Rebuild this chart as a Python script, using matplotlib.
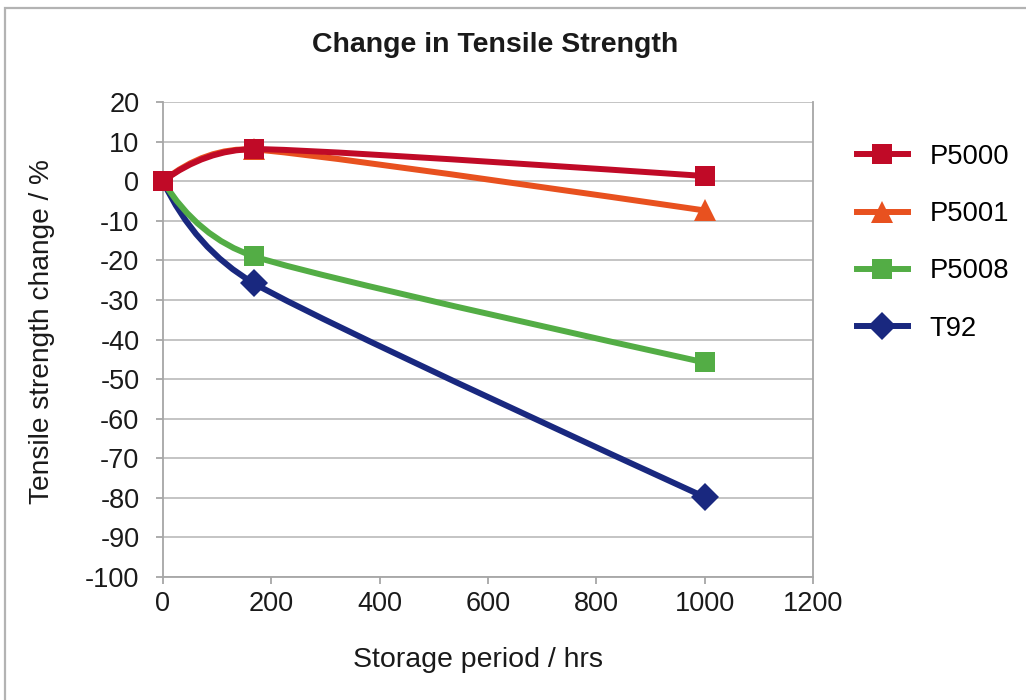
import matplotlib
matplotlib.use('Agg')
import matplotlib.pyplot as plt
from matplotlib.path import Path
from matplotlib.patches import PathPatch, Rectangle
from matplotlib.lines import Line2D
import numpy as np

plt.rcParams['font.family'] = ['Liberation Sans', 'DejaVu Sans']
plt.rcParams['axes.unicode_minus'] = False

# data
hours = [0, 168, 1000]
p5000 = [0, 8.1, 1.3]
p5001 = [0, 8.0, -7.4]
p5008 = [0, -19.0, -45.8]
t92 = [0, -25.8, -79.8]

series_names = ['P5000', 'P5001', 'P5008', 'T92']
series_values = [p5000, p5001, p5008, t92]
colors = ['#c00a27', '#e8511f', '#53ad45', '#19287f']
markers = ['s', '^', 's', 'D']
marker_sizes = [15, 16, 15, 14.5]

x_ticks = [0, 200, 400, 600, 800, 1000, 1200]
y_ticks = list(range(-100, 21, 10))

GRID = '#bfbfbf'
AXIS = '#a6a6a6'
TEXT = '#1a1a1a'
LW = 4.3


def smooth_path(ax, xs, ys):
    # smoothed line like the spreadsheet one: cubic bezier through the points,
    # tangents worked out in screen space so the curve looks the same
    pts = ax.transData.transform(np.column_stack([xs, ys]).astype(float))
    n = len(pts)
    tang_in = [None] * n
    tang_out = [None] * n
    for i in range(1, n - 1):
        d = pts[i + 1] - pts[i - 1]
        d = d / np.hypot(*d)
        short = min(np.hypot(*(pts[i] - pts[i - 1])), np.hypot(*(pts[i + 1] - pts[i])))
        tang_in[i] = d * short
        tang_out[i] = d * short
    # free ends: mirror the neighbouring tangent
    tang_out[0] = 2 * (pts[1] - pts[0]) - tang_in[1]
    tang_in[n - 1] = 2 * (pts[n - 1] - pts[n - 2]) - tang_out[n - 2]
    verts = [pts[0]]
    codes = [Path.MOVETO]
    for i in range(n - 1):
        verts += [pts[i] + tang_out[i] / 3.0, pts[i + 1] - tang_in[i + 1] / 3.0, pts[i + 1]]
        codes += [Path.CURVE4] * 3
    verts = ax.transData.inverted().transform(np.array(verts))
    return Path(verts, codes)


fig = plt.figure(figsize=(10.26, 7), dpi=100)
ax = fig.add_axes([163 / 1026, 123 / 700, 650 / 1026, 475 / 700])
ax.set_xlim(0, 1200)
ax.set_ylim(-100, 20)

# outer frame of the chart area
fig.patches.append(Rectangle((5 / 1026, -0.05), 1.1, (692 / 700) + 0.05,
                             transform=fig.transFigure, fill=False,
                             edgecolor='#b3b3b3', linewidth=1.6))

handles = []
for k in range(len(series_names)):
    z = 10 - k
    patch = PathPatch(smooth_path(ax, hours, series_values[k]), facecolor='none',
                      edgecolor=colors[k], linewidth=LW, capstyle='round',
                      joinstyle='round', zorder=z)
    ax.add_patch(patch)
    # the shared start point only shows the top series' marker
    every = None if k == 0 else [1, 2]
    ax.plot(hours, series_values[k], linestyle='none', marker=markers[k],
            markersize=marker_sizes[k], color=colors[k], markeredgewidth=0,
            markevery=every, zorder=z + 0.5, clip_on=False)
    handles.append(Line2D([], [], color=colors[k], linewidth=LW,
                          marker=markers[k], markersize=marker_sizes[k],
                          markeredgewidth=0, label=series_names[k]))
ax.plot(hours[:1], p5000[:1], linestyle='none', marker='s', markersize=15,
        color=colors[0], markeredgewidth=0, zorder=20, clip_on=False)

ax.set_xticks(x_ticks)
ax.set_yticks(y_ticks)
ax.yaxis.grid(True, color=GRID, linewidth=1.3)
ax.set_axisbelow(True)

for side in ['left', 'bottom', 'right']:
    ax.spines[side].set_color(AXIS)
    ax.spines[side].set_linewidth(1.3)
ax.spines['top'].set_visible(False)

ax.tick_params(axis='both', colors=AXIS, labelcolor=TEXT,
               labelsize=19.5, length=5, width=1.3)
ax.tick_params(axis='y', pad=12)
ax.tick_params(axis='x', pad=5)

fig.text(495 / 1026, 1 - 52 / 700, 'Change in Tensile Strength',
         ha='center', va='baseline', fontsize=20.5, fontweight='bold',
         color=TEXT)
fig.text(478 / 1026, 1 - 660 / 700, 'Storage period / hrs',
         ha='center', va='center', fontsize=20.5, color=TEXT)
fig.text(42 / 1026, 1 - 332 / 700, 'Tensile strength change / %',
         ha='center', va='center', rotation=90, fontsize=20.2,
         color=TEXT)

fig.legend(handles=handles, loc='upper left',
           bbox_to_anchor=(857 / 1026, 1 - 144 / 700), frameon=False,
           fontsize=19.7, handlelength=1.85, handletextpad=0.8,
           labelspacing=1.14, borderpad=0, borderaxespad=0)

fig.savefig('out.png', dpi=100)
